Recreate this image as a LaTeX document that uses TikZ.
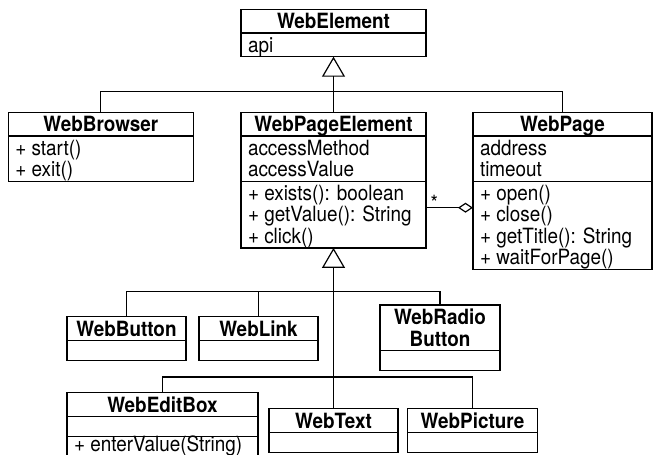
\documentclass[tikz,border=0pt]{standalone}
\usepackage{fontspec}
\setmainfont{TeX Gyre Heros}[FakeStretch=0.9]
\usetikzlibrary{shapes.multipart, arrows.meta}

\newcommand{\umlfont}{\fontsize{21}{21.5}\selectfont}
\newcommand{\ttl}[1]{\rule[-2.5pt]{0pt}{20.5pt}\smash{\textbf{#1}}}
\newcommand{\row}[2][17.5pt]{\rule[-3pt]{0pt}{\dimexpr#1+3pt\relax}\smash{#2}}

\tikzset{
  umlclass/.style={rectangle split, rectangle split parts=#1, draw, line width=1.2pt,
    inner xsep=7pt, inner ysep=1pt, outer sep=0pt, anchor=north west, align=left,
    rectangle split part align={center,left,left},
    rectangle split empty part height=17pt, rectangle split empty part depth=0pt,
    font=\umlfont},
  umlclass/.default=2,
  inherits/.style={line width=1.2pt, -{Triangle[open, length=20pt, width=23pt]}},
  aggregation/.style={line width=1.2pt, {Diamond[open, length=15pt, width=10pt]}-},
  link/.style={line width=1.2pt}
}

\begin{document}
\begin{tikzpicture}[x=1pt, y=-1pt]
  \useasboundingbox (0,0) rectangle (654,455);

  \node[umlclass, minimum width=185pt] (WebElement) at (241,9.3)
    {\ttl{WebElement} \nodepart{second} \row{api}};
  \node[umlclass, minimum width=185pt] (WebBrowser) at (8.3,112.3)
    {\ttl{WebBrowser} \nodepart{second} \row{+ start()}\\ \row{+ exit()}};
  \node[umlclass=3, minimum width=185pt] (WebPageElement) at (241,112.3)
    {\ttl{WebPageElement}
     \nodepart{second} \row{accessMethod}\\ \row{accessValue}
     \nodepart{third} \row{+ exists(): boolean}\\ \row{+ getValue(): String}\\ \row{+ click()}};
  \node[umlclass=3, minimum width=179pt] (WebPage) at (473,112.3)
    {\ttl{WebPage}
     \nodepart{second} \row{address}\\ \row{timeout}
     \nodepart{third} \row{+ open()}\\ \row{+ close()}\\ \row{+ getTitle(): String}\\ \row{+ waitForPage()}};

  \node[umlclass, minimum width=119pt] (WebButton) at (67,316.7)
    {\ttl{WebButton} \nodepart{second}};
  \node[umlclass, minimum width=119pt] (WebLink) at (199,316.7)
    {\ttl{WebLink} \nodepart{second}};
  \node[umlclass, minimum width=120pt, align=center] (WebRadioButton) at (380,305)
    {\ttl{WebRadio}\\ \ttl{Button} \nodepart{second}};

  \node[umlclass=3, minimum width=191pt] (WebEditBox) at (67,392.7)
    {\ttl{WebEditBox} \nodepart{second} \nodepart{third} \row[13pt]{+ enterValue(String)}};
  \node[umlclass, minimum width=129pt] (WebText) at (269,408.5)
    {\ttl{WebText} \nodepart{second}};
  \node[umlclass, minimum width=130pt] (WebPicture) at (407.5,408.5)
    {\ttl{WebPicture} \nodepart{second}};

  \coordinate (bus top) at (333.5,91.7);
  \coordinate (bus mid) at (333.5,291.7);
  \coordinate (bus low) at (333.5,377);
  \coordinate (agg) at (0,207.7);

  \draw[inherits] (WebPageElement.north) -- (WebElement.south);
  \draw[link] (WebBrowser.north) |- (bus top) -| (WebPage.north);

  \draw[inherits] (WebText.north) -- (WebPageElement.south);
  \draw[link] (WebButton.north) |- (bus mid) -| (WebRadioButton.north);
  \draw[link] (WebLink.north) -- (WebLink.north |- bus mid);
  \draw[link] (WebEditBox.north) |- (bus low) -| (WebPicture.north);

  \draw[aggregation] (WebPage.west |- agg) -- (WebPageElement.east |- agg)
    node[anchor=base west, inner sep=0pt, xshift=4pt, yshift=-2.3pt, font=\umlfont] (many) {*};
\end{tikzpicture}
\end{document}
